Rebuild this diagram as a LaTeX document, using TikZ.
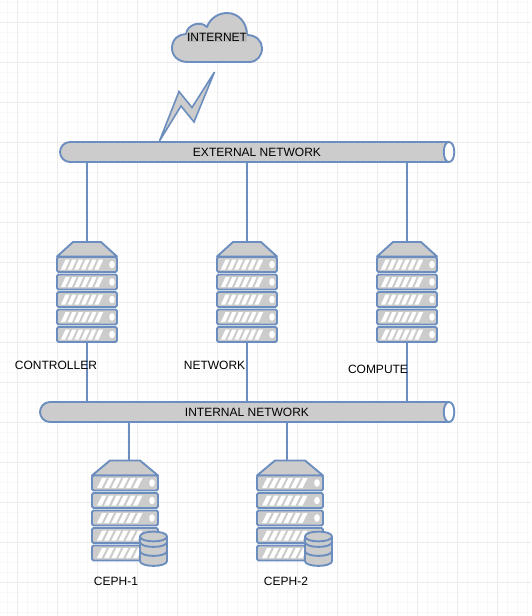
\documentclass[tikz,border=0pt]{standalone}
\usepackage{fontspec}
\setmainfont{Liberation Sans}
\definecolor{edge}{HTML}{6C8EBF}
\definecolor{body}{HTML}{CCCCCC}
\definecolor{gridminor}{HTML}{F8F8F8}
\definecolor{gridmajor}{HTML}{EBEBEB}
\tikzset{
  shapeline/.style={draw=edge,fill=body,line width=1.9pt,line join=round},
  wire/.style={draw=edge,line width=2pt},
  lbl/.style={font=\fontsize{12}{14}\selectfont,text=black,inner sep=0pt},
  buslbl/.style={lbl,minimum height=20pt},
  rack/.pic={
    \coordinate (-top) at (30,0);
    \coordinate (-bot) at (30,100);
    \path[shapeline] (0,14.5) -- (16,0) -- (44,0) -- (60,14.5) -- cycle;
    \foreach \r in {0,17.5,35,52.5,70}{
      \path[shapeline,rounded corners=1.5pt] (0,15+\r) rectangle (60,30+\r);
      \foreach \k in {0,...,5}{
        \fill[white] ({4+6.7*\k},{27.5+\r}) -- ({8.2+6.7*\k},{27.5+\r}) -- ({12.7+6.7*\k},{17.5+\r}) -- ({8.5+6.7*\k},{17.5+\r}) -- cycle;
      }
      \fill[white] (55,18.7+\r) .. controls (51.3,18.7+\r) and (51.3,26.3+\r) .. (55,26.3+\r) .. controls (58.7,26.3+\r) and (58.7,18.7+\r) .. (55,18.7+\r) -- cycle;
    }
  },
  bigrack/.pic={
    \coordinate (-top) at (33,0);
    \path[shapeline] (0,15) -- (18,0) -- (48,0) -- (66,15) -- cycle;
    \foreach \r in {0,17.5,35,52.5,70}{
      \path[shapeline,rounded corners=1.5pt] (0,15+\r) rectangle (66,30+\r);
      \foreach \k in {0,...,5}{
        \fill[white] ({5+7.2*\k},{27.5+\r}) -- ({9.6+7.2*\k},{27.5+\r}) -- ({14.6+7.2*\k},{17.5+\r}) -- ({10+7.2*\k},{17.5+\r}) -- cycle;
      }
      \fill[white] (60,18.7+\r) .. controls (56.3,18.7+\r) and (56.3,26.3+\r) .. (60,26.3+\r) .. controls (63.7,26.3+\r) and (63.7,18.7+\r) .. (60,18.7+\r) -- cycle;
    }
    % database
    \path[shapeline] (48,76) -- (48,100.5) .. controls (48,107) and (75,107) .. (75,100.5) -- (75,76)
      .. controls (75,69.5) and (48,69.5) .. (48,76) -- cycle;
    \draw[edge,line width=1.9pt] (48,76) .. controls (48,82.5) and (75,82.5) .. (75,76);
    \draw[edge,line width=1.9pt] (48,81.5) .. controls (48,88) and (75,88) .. (75,81.5);
    \draw[edge,line width=1.9pt] (48,90.5) .. controls (48,97) and (75,97) .. (75,90.5);
  }
}
\begin{document}
\begin{tikzpicture}[x=1pt,y=-1pt]
\useasboundingbox (0,0) rectangle (531,616);
\fill[white] (0,0) rectangle (531,616);
% grid
\foreach \i in {0,...,53}{\draw[gridminor,line width=.7pt] ({7+10*\i},0) -- ({7+10*\i},616);}
\foreach \i in {0,...,61}{\draw[gridminor,line width=.7pt] (0,{2+10*\i}) -- (531,{2+10*\i});}
\foreach \i in {0,...,13}{\draw[gridmajor,line width=.8pt] ({17+40*\i},0) -- ({17+40*\i},616);}
\foreach \i in {0,...,15}{\draw[gridmajor,line width=.8pt] (0,{22+40*\i}) -- (531,{22+40*\i});}
% anchors
\coordinate (extl) at (87,162);
\coordinate (extm) at (247,162);
\coordinate (extr) at (407,162);
\coordinate (intl) at (87,402);
\coordinate (intm) at (247,402);
\coordinate (intr) at (407,402);
\coordinate (intc) at (129,422);
\coordinate (intd) at (287,422);
% racks
\pic (ctrl) at (57,242) {rack};
\pic (netw) at (217,242) {rack};
\pic (comp) at (377,242) {rack};
\pic (cephA) at (92,460.5) {bigrack};
\pic (cephB) at (257,460.5) {bigrack};
% connectors
\draw[wire] (extl) -- (ctrl-top);
\draw[wire] (extm) -- (netw-top);
\draw[wire] (extr) -- (comp-top);
\draw[wire] (ctrl-bot) -- (intl);
\draw[wire] (netw-bot) -- (intm);
\draw[wire] (comp-bot) -- (intr);
\draw[wire] (intc) -- (intc |- cephA-top);
\draw[wire] (intd) -- (intd |- cephB-top);
% buses
\path[shapeline] (449,142) -- (70,142) .. controls (64,142) and (60,147) .. (60,152) .. controls (60,157) and (64,162) .. (70,162) -- (449,162) -- cycle;
\path[draw=edge,fill=white,line width=1.9pt] (449,142) .. controls (442,142) and (442,162) .. (449,162) .. controls (456,162) and (456,142) .. (449,142) -- cycle;
\path[shapeline] (449,402) -- (50,402) .. controls (44,402) and (40,407) .. (40,412) .. controls (40,417) and (44,422) .. (50,422) -- (449,422) -- cycle;
\path[draw=edge,fill=white,line width=1.9pt] (449,402) .. controls (442,402) and (442,422) .. (449,422) .. controls (456,422) and (456,402) .. (449,402) -- cycle;
\node[buslbl] (ext) at (257,152) {EXTERNAL NETWORK};
\node[buslbl] (int) at (247,412) {INTERNAL NETWORK};
% cloud
\path[shapeline] (188,62) .. controls (178,62) and (172,56) .. (172,48)
  .. controls (172,39) and (179,34) .. (186,34)
  .. controls (187,25) and (200,20) .. (207,27)
  .. controls (210,18) and (219,13) .. (227,13)
  .. controls (238,13) and (247,22) .. (247,35)
  .. controls (256,35) and (262,41) .. (262,48)
  .. controls (262,56) and (257,62) .. (249,62) -- cycle;
\node[lbl,fill=body!92!black,inner xsep=0pt,inner ysep=1pt] (inet) at (217,37) {INTERNET};
% lightning
\path[shapeline,line width=1.6pt,line join=miter] (159.5,141) -- (179,91.5) -- (192,107.5) -- (214.5,72) -- (194,122) -- (181,106) -- cycle;
% labels
\node[lbl] (l1) at (56,365) {CONTROLLER};
\node[lbl] (l2) at (214.5,365) {NETWORK};
\node[lbl] (l3) at (378,369) {COMPUTE};
\node[lbl] (l4) at (116,581) {CEPH-1};
\node[lbl] (l5) at (286,581) {CEPH-2};
\end{tikzpicture}
\end{document}
